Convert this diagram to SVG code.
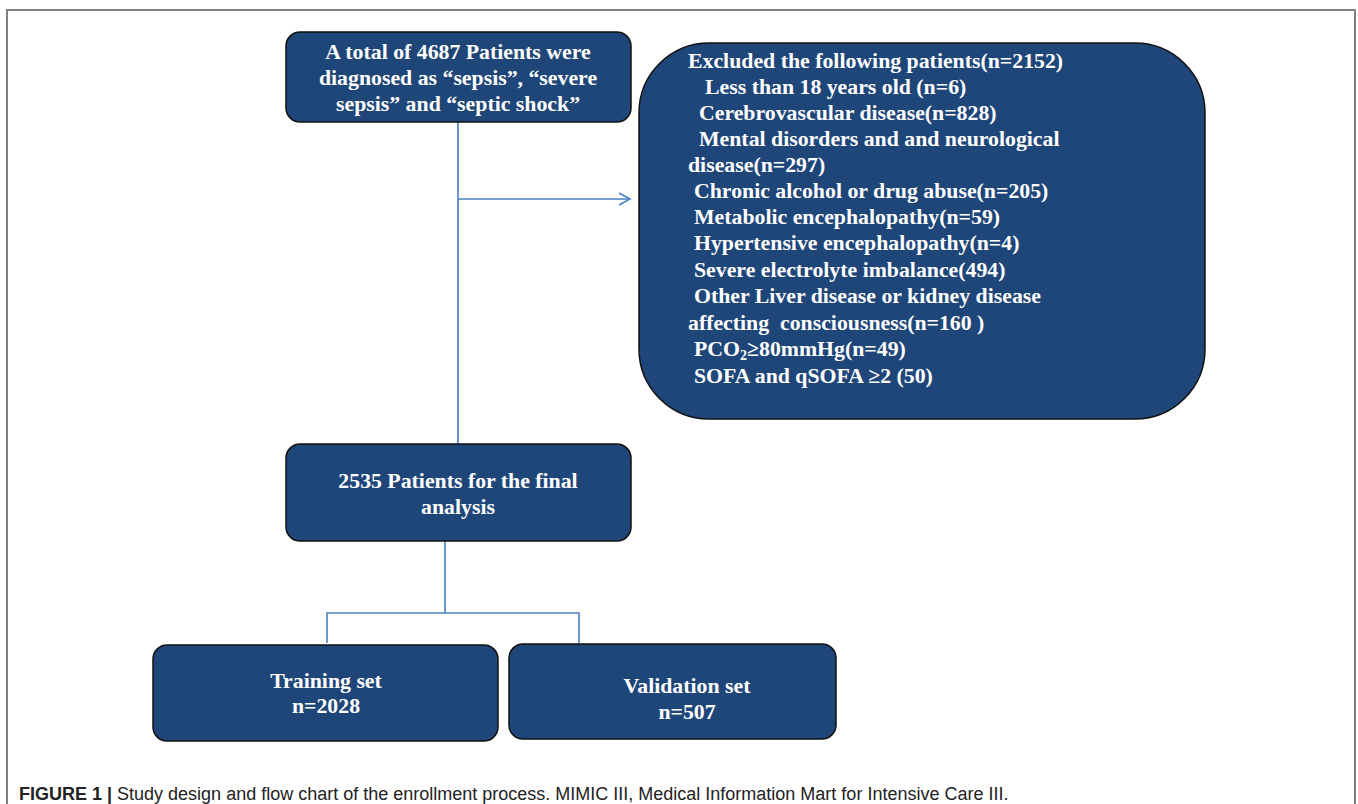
<svg xmlns="http://www.w3.org/2000/svg" width="1358" height="804" viewBox="0 0 1358 804">
<defs>
<style>
.box{fill:#1f4679;stroke:#111;stroke-width:1.5}
.t{font-family:"Liberation Serif","Times New Roman",serif;font-weight:bold;font-size:21.8px;fill:#fff}
.c{text-anchor:middle}
.conn{stroke:#4a7fc1;stroke-width:1.6;fill:none}
.cap{font-family:"Liberation Sans",Arial,sans-serif;font-size:18px;fill:#222}
</style>
<marker id="arr" markerWidth="14" markerHeight="14" refX="12" refY="7" orient="auto" markerUnits="userSpaceOnUse">
<path d="M1,1 L12,7 L1,13" fill="none" stroke="#4a7fc1" stroke-width="1.6"/>
</marker>
</defs>
<rect width="1358" height="804" fill="#fff"/>
<path d="M7,804 V10 H1355 V804" fill="none" stroke="#808080" stroke-width="2"/>
<g id="connectors">
<path class="conn" d="M458,121 V444"/>
<path class="conn" d="M458,199 H630" marker-end="url(#arr)"/>
<path class="conn" d="M445,541 V613"/>
<path class="conn" d="M327,643 V613 H579 V643"/>
</g>
<g id="n_total">
<rect class="box" x="286" y="32" width="345" height="90" rx="14"/>
<text class="t c" x="458" y="59">A total of 4687 Patients were</text>
<text class="t c" x="458" y="85">diagnosed as “sepsis”, “severe</text>
<text class="t c" x="458" y="111">sepsis” and “septic shock”</text>
</g>
<g id="n_excluded">
<rect class="box" x="639" y="43" width="566" height="376" rx="70"/>
<text class="t" x="688" y="68">Excluded the following patients(n=2152)</text>
<text class="t" x="705" y="94">Less than 18 years old (n=6)</text>
<text class="t" x="699" y="120">Cerebrovascular disease(n=828)</text>
<text class="t" x="699" y="146">Mental disorders and and neurological</text>
<text class="t" x="688" y="172">disease(n=297)</text>
<text class="t" x="694" y="198">Chronic alcohol or drug abuse(n=205)</text>
<text class="t" x="694" y="224">Metabolic encephalopathy(n=59)</text>
<text class="t" x="694" y="250">Hypertensive encephalopathy(n=4)</text>
<text class="t" x="694" y="277">Severe electrolyte imbalance(494)</text>
<text class="t" x="694" y="303">Other Liver disease or kidney disease</text>
<text class="t" x="688" y="330" xml:space="preserve">affecting  consciousness(n=160 )</text>
<text class="t" x="694" y="356">PCO<tspan font-size="14" dy="4">2</tspan><tspan dy="-4">≥80mmHg(n=49)</tspan></text>
<text class="t" x="694" y="383">SOFA and qSOFA ≥2 (50)</text>
</g>
<g id="n_final">
<rect class="box" x="286" y="444" width="345" height="97" rx="14"/>
<text class="t c" x="458" y="488">2535 Patients for the final</text>
<text class="t c" x="458" y="514">analysis</text>
</g>
<g id="n_training">
<rect class="box" x="153" y="645" width="345" height="96" rx="14"/>
<text class="t c" x="326" y="688">Training set</text>
<text class="t c" x="326" y="713">n=2028</text>
</g>
<g id="n_validation">
<rect class="box" x="509" y="644" width="327" height="95" rx="14"/>
<text class="t c" x="687" y="693">Validation set</text>
<text class="t c" x="687" y="719">n=507</text>
</g>
<text class="cap" x="19" y="800"><tspan font-weight="bold">FIGURE 1 |</tspan> Study design and flow chart of the enrollment process. MIMIC III, Medical Information Mart for Intensive Care III.</text>
</svg>
